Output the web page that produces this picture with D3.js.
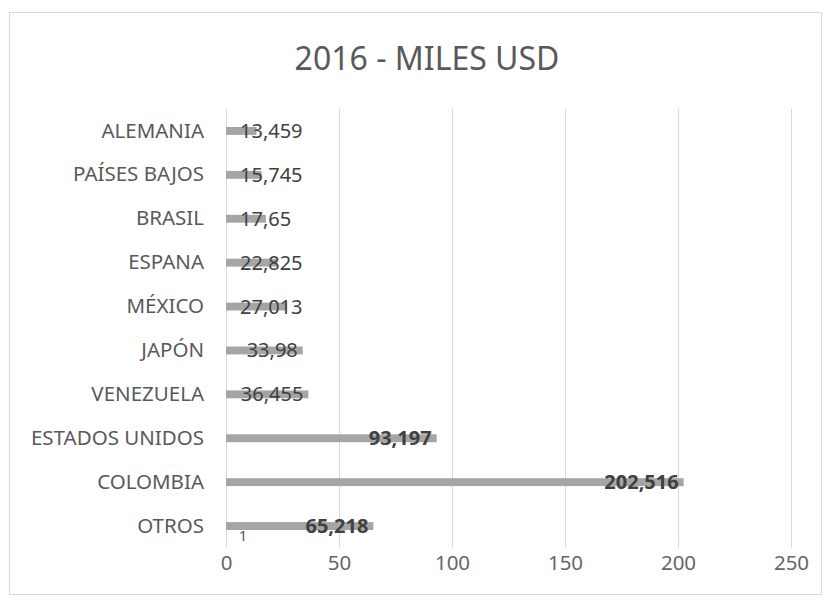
<!DOCTYPE html>
<html>
<head>
<meta charset="utf-8">
<script src="https://cdn.jsdelivr.net/npm/d3@7"></script>
<style>
  body { margin: 0; background: #fff; }
  text { font-family: "Noto Sans", "Open Sans", sans-serif; }
</style>
</head>
<body>
<div id="chart"></div>
<script>
// The dataset (miles USD, 2016)
var categories = ['ALEMANIA', 'PAÍSES BAJOS', 'BRASIL', 'ESPANA', 'MÉXICO',
  'JAPÓN', 'VENEZUELA', 'ESTADOS UNIDOS', 'COLOMBIA', 'OTROS'];
var values = [13.459, 15.745, 17.65, 22.825, 27.013, 33.98, 36.455, 93.197, 202.516, 65.218];
var labels = ['13,459', '15,745', '17,65', '22,825', '27,013', '33,98', '36,455', '93,197', '202,516', '65,218'];
var xTicks = [0, 50, 100, 150, 200, 250];

var width = 830,
  height = 605,
  margin = {top: 109, right: 39, bottom: 57, left: 226};

var svg = d3.select('#chart').append('svg')
  .attr('width', width)
  .attr('height', height);

// Chart frame
svg.append('rect')
  .attr('x', 9.5).attr('y', 12.5)
  .attr('width', 812).attr('height', 582)
  .attr('fill', '#fff')
  .attr('stroke', '#d9d9d9');

svg.append('text')
  .attr('x', 427).attr('y', 70)
  .attr('text-anchor', 'middle')
  .attr('font-size', 32)
  .attr('fill', '#595959')
  .text('2016 - MILES USD');

var x = d3.scaleLinear().domain([0, 250]).range([margin.left, width - margin.right]);
var y = d3.scaleBand().domain(categories)
  .range([margin.top, height - margin.bottom])
  .paddingInner(0.82)
  .paddingOuter(0.41);

// Vertical gridlines
svg.append('g').selectAll('line')
  .data(xTicks)
  .enter().append('line')
  .attr('x1', function (d) { return x(d) + 0.5; })
  .attr('x2', function (d) { return x(d) + 0.5; })
  .attr('y1', margin.top)
  .attr('y2', height - margin.bottom)
  .attr('stroke', '#d9d9d9');

// X axis labels
var xAxis = d3.axisBottom(x).tickValues(xTicks).tickSize(0).tickPadding(7);
var gx = svg.append('g')
  .attr('transform', 'translate(0,' + (height - margin.bottom) + ')')
  .call(xAxis);
gx.select('.domain').remove();
gx.selectAll('text')
  .attr('font-size', 20.5)
  .attr('fill', '#666')
  .style('font-family', '"Noto Sans", sans-serif');

// Y axis labels
var yAxis = d3.axisLeft(y).tickSize(0).tickPadding(22);
var gy = svg.append('g')
  .attr('transform', 'translate(' + margin.left + ',0)')
  .call(yAxis);
gy.select('.domain').remove();
gy.selectAll('text')
  .attr('font-size', 20.5)
  .attr('fill', '#595959')
  .style('font-family', '"Noto Sans", sans-serif');

// Bars
svg.append('g').selectAll('rect')
  .data(values)
  .enter().append('rect')
  .attr('x', x(0))
  .attr('y', function (d, i) { return y(categories[i]); })
  .attr('width', function (d) { return x(d) - x(0); })
  .attr('height', y.bandwidth())
  .attr('fill', '#a5a5a5');

// Value labels, inside end, pushed right when the bar is too short
var lbl = svg.append('g').selectAll('text')
  .data(values)
  .enter().append('text')
  .attr('y', function (d, i) { return y(categories[i]) + y.bandwidth() / 2; })
  .attr('dy', '0.35em')
  .attr('font-size', 20)
  .attr('fill', '#404040')
  .attr('font-weight', function (d) { return d > 60 ? 'bold' : 'normal'; })
  .text(function (d, i) { return labels[i]; });

lbl.attr('x', function (d) {
  var w = this.getComputedTextLength();
  return Math.max(x(d) - 5 - w, x(0) + 14);
});

// Stray mark under OTROS
svg.append('text')
  .attr('x', x(7.5))
  .attr('y', y('OTROS') + y.bandwidth() + 11)
  .attr('font-size', 15)
  .attr('fill', '#595959')
  .attr('text-anchor', 'middle')
  .text('1');
</script>
</body>
</html>
